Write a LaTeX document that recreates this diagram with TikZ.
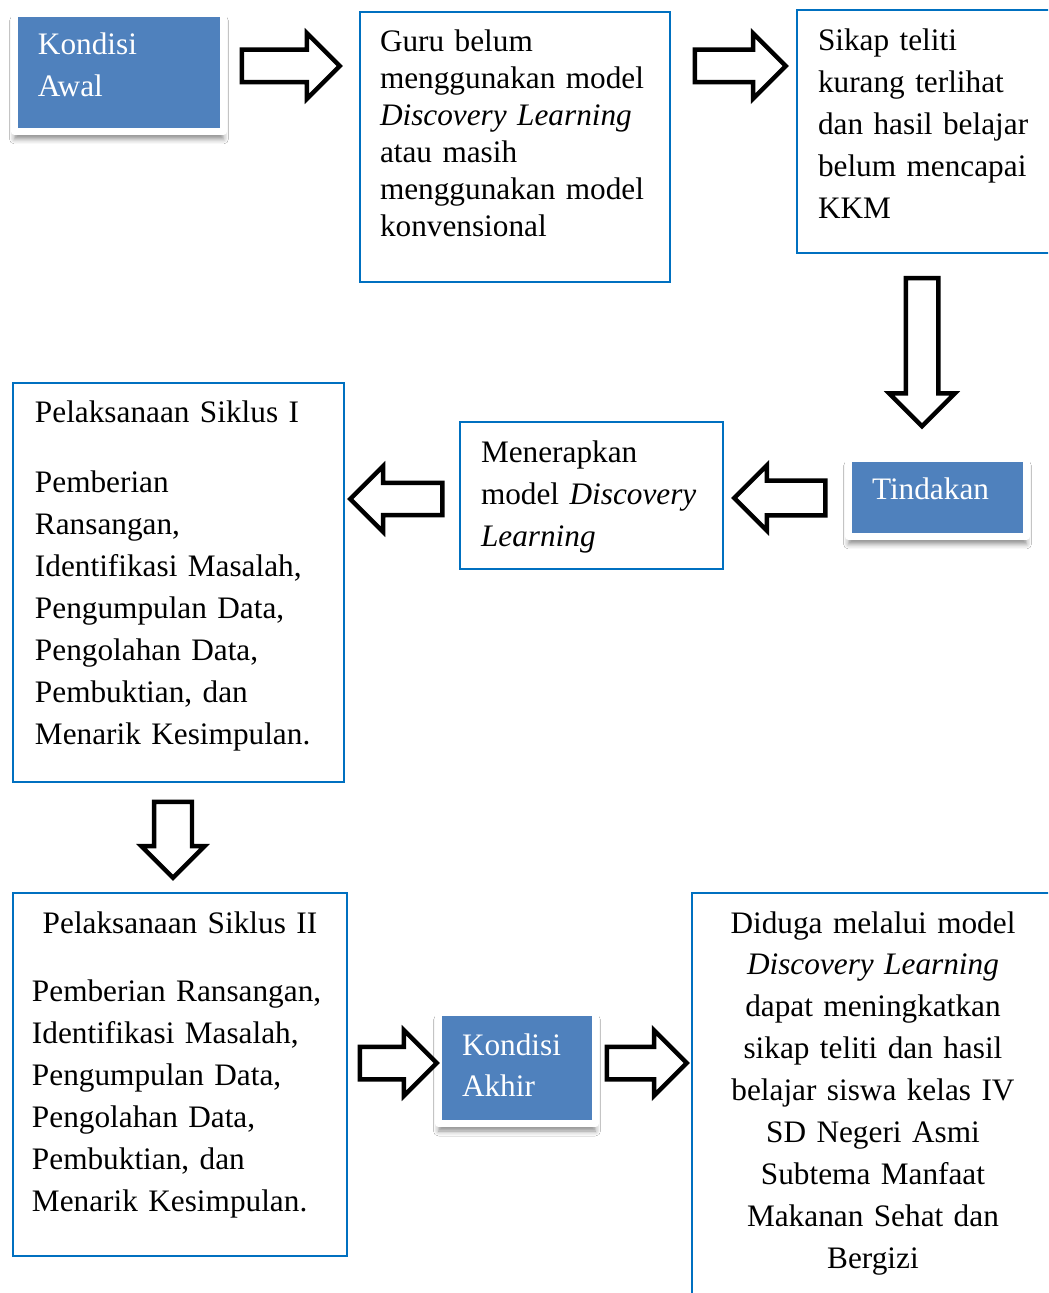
\documentclass[tikz,border=0pt]{standalone}
\usepackage{fontspec}
\setmainfont{Liberation Serif}
\usepackage{tikz}
\usetikzlibrary{shapes.arrows,shadows.blur}
\definecolor{garisbiru}{RGB}{0,112,192}
\definecolor{isibiru}{RGB}{79,129,189}
\tikzset{>=latex}
\def\myfont{\fontsize{17.8pt}{23.9pt}\selectfont}
\def\myrapat{\fontsize{17.8pt}{21.06pt}\selectfont}
\tikzset{
  kotak/.style={draw=garisbiru, line width=0.04cm, fill=white, anchor=north west,
    outer sep=0pt, inner ysep=0pt, align=left, font=\myfont},
  kotakbiru/.style={fill=isibiru, draw=white, line width=0.14cm, line join=round,
    text=white, anchor=north west, outer sep=0pt, inner ysep=0pt, align=left, font=\myfont,
    blur shadow={shadow xshift=0cm, shadow yshift=-0.15cm, shadow blur radius=0.1cm, shadow opacity=45}},
  panah/.style={single arrow, draw=black, fill=white, line width=0.09cm, inner xsep=0pt,
    inner ysep=0.28cm, single arrow head extend=0.33cm, minimum height=#1, anchor=tail}
}

\begin{document}
\begin{tikzpicture}[x=0.02cm, y=-0.02cm]
          \path[use as bounding box, fill=white] (0,0) rectangle (1048,1293);
          \clip (0,0) rectangle (1048,1293);

          % baris atas
          \node[kotakbiru, inner xsep=0.47cm, text width=3.24cm, text height=0.83cm, text depth=1.53cm] (awal) at (14.5,13.5) {Kondisi\\ Awal};
          \node[kotak, inner xsep=0.4cm, text width=5.4cm, text height=0.8cm, text depth=4.6cm, font=\myrapat] (guru) at (360,12)
            {Guru belum\\ menggunakan~model\\ \textit{Discovery~Learning}\\ atau masih\\ menggunakan~model\\ konvensional};
          \node[kotak, inner xsep=0.42cm, text width=4.42cm, text height=0.82cm, text depth=4.04cm] (sikap) at (797,10)
            {Sikap teliti\\ kurang terlihat\\ dan~hasil~belajar\\ belum~mencapai\\ KKM};

          % baris tengah
          \node[kotakbiru, inner xsep=0.47cm, text width=2.62cm, text height=0.83cm, text depth=0.73cm] (tindakan) at (848.5,458.5) {Tindakan};
          \node[kotak, inner xsep=0.42cm, text width=4.42cm, text height=0.82cm, text depth=2.12cm] (terapkan) at (460,422)
            {Menerapkan\\ model~\textit{Discovery}\\ \textit{Learning}};
          \node[kotak, inner xsep=0.44cm, text width=5.74cm, text height=0.8cm, text depth=7.18cm] (siklus1) at (13,383)
            {Pelaksanaan Siklus I\\[0.56cm] Pemberian\\ Ransangan,\\ Identifikasi~Masalah,\\ Pengumpulan Data,\\ Pengolahan Data,\\ Pembuktian, dan\\ Menarik~Kesimpulan.};

          % baris bawah
          \node[kotak, inner xsep=0.38cm, text width=5.92cm, text height=0.8cm, text depth=6.46cm] (siklus2) at (13,893)
            {\makebox[\linewidth]{Pelaksanaan Siklus II}\\[0.54cm] Pemberian~Ransangan,\\ Identifikasi~Masalah,\\ Pengumpulan Data,\\ Pengolahan Data,\\ Pembuktian, dan\\ Menarik~Kesimpulan.};
          \node[kotakbiru, inner xsep=0.47cm, text width=2.2cm, text height=0.85cm, text depth=1.37cm] (akhir) at (438.5,1012.5) {Kondisi\\ Akhir};
          \node[kotak, align=center, inner xsep=0.4cm, text width=6.44cm, text height=0.8cm, text depth=7.64cm] (duga) at (692,893)
            {Diduga melalui model\\ \textit{Discovery Learning}\\ dapat meningkatkan\\ sikap teliti dan hasil\\ belajar siswa kelas IV\\ SD Negeri Asmi\\ Subtema Manfaat\\ Makanan Sehat dan\\ Bergizi};

          % panah blok
          \node[panah=1.96cm] (panah1) at (239.5,66) {};
          \node[panah=1.82cm] (panah2) at (692.5,66) {};
          \node[panah=2.96cm, rotate=-90] (panah3) at (922,276) {};
          \node[panah=1.82cm, rotate=180, inner ysep=0.305cm, single arrow head extend=0.3cm] (panah4) at (827.5,498) {};
          \node[panah=1.84cm, rotate=180] (panah5) at (444.5,499) {};
          \node[panah=1.52cm, rotate=-90, inner ysep=0.335cm, single arrow head extend=0.25cm] (panah6) at (173,799.5) {};
          \node[panah=1.54cm] (panah7) at (357.5,1063) {};
          \node[panah=1.6cm] (panah8) at (604.5,1063) {};
        \end{tikzpicture}
\end{document}
